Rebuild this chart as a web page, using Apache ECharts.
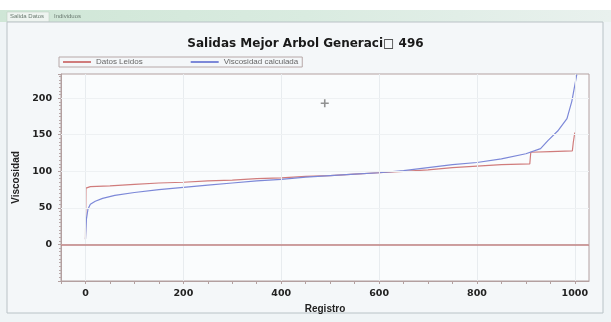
<!DOCTYPE html>
<html>
<head>
<meta charset="utf-8">
<script src="https://cdn.jsdelivr.net/npm/echarts@6/dist/echarts.min.js"></script>
<style>html,body{margin:0;padding:0;background:#fff;}#c{width:611px;height:322px;}</style>
</head>
<body>
<div id="c"></div>
<script>
const titleText = 'Salidas Mejor Arbol Generaci\u25A1 496';
const tabLabels = ['Salida Datos', 'Individuos'];
const seriesNames = ['Datos Leidos', 'Viscosidad calculada'];
const xTickLabels = [0, 200, 400, 600, 800, 1000];
const yTickLabels = [0, 50, 100, 150, 200];

const leidosX = [0, 1, 10, 50, 100, 150, 200, 250, 300, 350, 400, 450, 500, 550, 600, 650, 700, 750, 800, 850, 908, 910, 950, 995, 997, 1000];
const leidosY = [7, 77, 79, 80, 82, 84, 85, 87, 88, 90, 91, 93, 94, 96, 98, 100, 102, 105, 107, 109, 110, 126, 127, 128, 140, 153];

const calcX = [0, 2, 5, 10, 20, 35, 60, 100, 150, 200, 250, 300, 350, 400, 450, 500, 550, 600, 650, 700, 750, 800, 850, 900, 930, 945, 965, 984, 994, 1004];
const calcY = [7, 35, 48, 55, 59, 63, 67, 71, 75, 78, 81, 84, 87, 89, 92, 94, 96, 98, 101, 105, 109, 112, 117, 124, 131, 142, 155, 172, 196, 232];

const crossX = [489];
const crossY = [193];
const zeroLineValue = 0;

const chart = echarts.init(document.getElementById('c'), null, {renderer: 'canvas'});
const font = 'Liberation Sans';
const tickFont = 'DejaVu Sans';
const pair = (xs, ys) => xs.map((x, i) => [x, ys[i]]);

chart.setOption({
  backgroundColor: '#eff4f6',
  animation: false,
  graphic: [
    {type: 'rect', shape: {x: 0, y: 0, width: 611, height: 10}, style: {fill: '#ffffff'}, z: -10},
    {type: 'rect', shape: {x: 0, y: 10, width: 611, height: 12}, style: {fill: new echarts.graphic.LinearGradient(0, 0, 1, 0, [{offset: 0, color: '#cfe6d6'}, {offset: 0.5, color: '#d9ebe0'}, {offset: 1, color: '#e9f1ee'}])}, z: -10},
    {type: 'rect', shape: {x: 7, y: 12, width: 42, height: 10}, style: {fill: '#eef4f0', stroke: '#b8c8be', lineWidth: 0.5}, z: -9},
    {type: 'text', left: 10, top: 13, style: {text: tabLabels[0], fontSize: 6, fill: '#6a7a70', fontFamily: font}},
    {type: 'text', left: 54, top: 13, style: {text: tabLabels[1], fontSize: 6, fill: '#6a7a70', fontFamily: font}},
    {type: 'rect', shape: {x: 7, y: 22, width: 596, height: 291}, style: {fill: '#f4f7f9', stroke: '#b9c2c6', lineWidth: 1}, z: -9}
  ],
  title: {
    text: titleText, left: 'center', top: 33,
    textStyle: {fontFamily: tickFont, fontWeight: 'bold', fontSize: 12, color: '#1a1a1a'}
  },
  legend: {
    left: 59, top: 57, padding: [1, 4, 1, 4],
    borderColor: '#b7a8a8', borderWidth: 1,
    itemWidth: 28, itemHeight: 2, itemGap: 48, icon: 'rect',
    textStyle: {fontFamily: font, fontSize: 8, color: '#666'},
    data: seriesNames
  },
  grid: {left: 61, right: 22, top: 74, bottom: 41, show: true, backgroundColor: '#fafcfd', borderColor: '#b3a0a0', borderWidth: 1},
  xAxis: {
    type: 'value', min: -50, max: 1029, interval: 50,
    name: 'Registro', nameLocation: 'middle', nameGap: 19,
    nameTextStyle: {fontFamily: font, fontWeight: 'bold', fontSize: 10, color: '#222'},
    axisLine: {show: true, onZero: false, lineStyle: {color: '#b3a0a0'}},
    axisTick: {show: true, length: 3, lineStyle: {color: '#b3a0a0'}},
    axisLabel: {fontFamily: tickFont, fontWeight: 'bold', fontSize: 9.5, color: '#222', margin: 8, showMaxLabel: false,
      formatter: v => xTickLabels.includes(v) ? String(v) : ''},
    splitLine: {show: false}
  },
  yAxis: {
    type: 'value', min: -50, max: 233, interval: 50,
    name: 'Viscosidad', nameLocation: 'middle', nameGap: 36,
    nameTextStyle: {fontFamily: font, fontWeight: 'bold', fontSize: 10, color: '#222'},
    axisLine: {show: true, onZero: false, lineStyle: {color: '#b3a0a0'}},
    axisTick: {show: true, length: 3, lineStyle: {color: '#b3a0a0'}},
    minorTick: {show: true, splitNumber: 10, length: 2, lineStyle: {color: '#b8a8a8'}},
    axisLabel: {fontFamily: tickFont, fontWeight: 'bold', fontSize: 9.5, color: '#222', margin: 9, showMaxLabel: false,
      formatter: v => yTickLabels.includes(v) ? String(v) : ''},
    splitLine: {show: false}
  },
  series: [
    {
      name: seriesNames[0], type: 'line', data: pair(leidosX, leidosY), symbol: 'none',
      lineStyle: {color: '#d07c7c', width: 1.2}, itemStyle: {color: '#d07c7c'}, z: 3,
      markLine: {
        silent: true, symbol: 'none', label: {show: false}, animation: false,
        data: [
          ...xTickLabels.map(v => ({xAxis: v, lineStyle: {color: '#e8ecef', width: 1, type: 'solid'}})),
          ...yTickLabels.map(v => ({yAxis: v, lineStyle: {color: '#eef1f3', width: 1, type: 'solid'}})),
          {yAxis: zeroLineValue, lineStyle: {color: '#bf8080', width: 1.5, type: 'solid'}}
        ]
      }
    },
    {
      name: seriesNames[1], type: 'line', data: pair(calcX, calcY), symbol: 'none',
      lineStyle: {color: '#7c88d8', width: 1.2}, itemStyle: {color: '#7c88d8'}, z: 4
    },
    {
      type: 'scatter', data: pair(crossX, crossY), silent: true,
      symbol: 'path://M4,0H6V4H10V6H6V10H4V6H0V4H4Z', symbolSize: 8,
      itemStyle: {color: '#777'}
    }
  ]
});
</script>
</body>
</html>
